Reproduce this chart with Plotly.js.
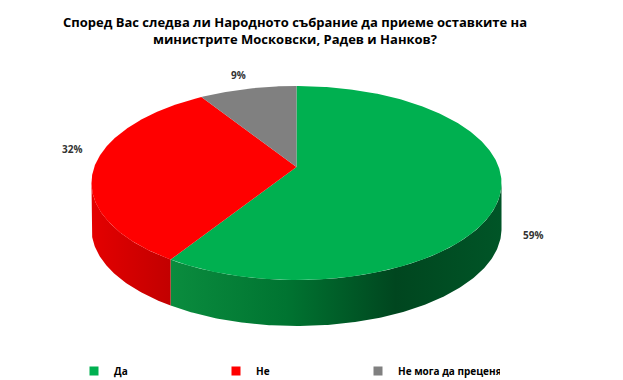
<!DOCTYPE html>
<html>
<head>
<meta charset="utf-8">
<script src="https://cdn.plot.ly/plotly-3.0.1.min.js"></script>
<style>html,body{margin:0;padding:0;background:#fff;}#chart{width:623px;height:380px;}</style>
</head>
<body>
<div id="chart"></div>
<script>
// ---- data ----
const categories = ['Да', 'Не', 'Не мога да преценя'];
const values = [59, 32, 9];
const valueLabels = ['59%', '32%', '9%'];
const titleText = 'Според Вас следва ли Народното събрание да приеме оставките на<br>министрите Московски, Радев и Нанков?';

// ---- styles ----
const topColors = ['#00b050', '#ff0000', '#808080'];
const sideScales = [
  [[0, '#0a8c3e'], [0.35, '#007431'], [0.68, '#00461f'], [1, '#005527']],
  [[0, '#e40000'], [1, '#c20000']],
  [[0, '#606060'], [1, '#505050']]
];
const labelShifts = [[33, -40], [-22, 18], [-9, 14]];

// ---- geometry (pixel space, perspective-projected disc) ----
const W = 623, H = 380;
const AX = 296.5, AY = 167;          // projected centre of the disc
const A = 202.2, B = 94.4, K = 0.165; // radii and perspective factor
const DEPTH = 46;
const rad = d => d * Math.PI / 180;
const rim = t => {
  const X = Math.sin(rad(t)), Z = Math.cos(rad(t));
  const s = 1 / (1 + K * Z);
  return [AX + A * X * s, AY - B * Z * s];
};
const silhouette = Math.acos(-K) * 180 / Math.PI; // where the side wall becomes visible

const total = values.reduce((a, b) => a + b, 0);
const starts = [], ends = [];
let acc = 0;
values.forEach(v => { starts.push(acc / total * 360); acc += v; ends.push(acc / total * 360); });

const arc = (a, b) => {
  const steps = Math.max(2, Math.ceil((b - a) * 1.5));
  const pts = [];
  for (let k = 0; k <= steps; k++) pts.push(rim(a + (b - a) * k / steps));
  return pts;
};

const traces = [];
// side walls (visible front part)
values.forEach((v, i) => {
  const a = Math.max(starts[i], silhouette), b = Math.min(ends[i], 360 - silhouette);
  if (b <= a) return;
  const top = arc(a, b);
  const xs = top.map(p => p[0]), ys = top.map(p => p[1]);
  for (let k = top.length - 1; k >= 0; k--) { xs.push(top[k][0]); ys.push(top[k][1] + DEPTH); }
  xs.push(xs[0]); ys.push(ys[0]);
  traces.push({
    type: 'scatter', mode: 'lines', x: xs, y: ys, fill: 'toself',
    fillgradient: { type: 'horizontal', colorscale: sideScales[i] },
    line: { width: 0, color: 'rgba(0,0,0,0)' }, hoverinfo: 'skip', showlegend: false
  });
});
// top faces
values.forEach((v, i) => {
  const pts = arc(starts[i], ends[i]);
  const xs = [AX].concat(pts.map(p => p[0]), [AX]);
  const ys = [AY].concat(pts.map(p => p[1]), [AY]);
  traces.push({
    type: 'scatter', mode: 'lines', x: xs, y: ys, fill: 'toself', fillcolor: topColors[i],
    line: { width: 0, color: topColors[i] }, hoverinfo: 'skip', showlegend: false
  });
});
// legend entries
categories.forEach((c, i) => {
  traces.push({
    type: 'scatter', mode: 'markers', x: [null], y: [null], name: c,
    marker: { symbol: 'square', size: 9, color: topColors[i] }, showlegend: true
  });
});

const annotations = values.map((v, i) => {
  const p = rim((starts[i] + ends[i]) / 2);
  return {
    x: p[0], y: p[1], xref: 'x', yref: 'y', text: valueLabels[i], showarrow: false,
    xshift: labelShifts[i][0], yshift: labelShifts[i][1],
    font: { family: 'Open Sans', size: 10, weight: 'bold', color: '#333333' }
  };
});

const layout = {
  width: W, height: H,
  margin: { l: 0, r: 0, t: 0, b: 0, autoexpand: false },
  paper_bgcolor: '#ffffff', plot_bgcolor: '#ffffff',
  xaxis: { range: [0, W], autorange: false, visible: false, fixedrange: true },
  yaxis: { range: [H, 0], autorange: false, visible: false, fixedrange: true },
  title: {
    text: titleText, x: 295 / W, xanchor: 'center', xref: 'paper',
    y: 1 - 27 / H, yref: 'container', yanchor: 'top', automargin: false,
    font: { family: 'Open Sans', size: 13, weight: 'bold', color: '#000000' }
  },
  showlegend: true,
  legend: {
    orientation: 'h', x: 74 / W, xanchor: 'left', xref: 'container',
    y: 1 - 371 / H, yanchor: 'middle', yref: 'container',
    entrywidth: 97, font: { family: 'Open Sans', size: 10, weight: 'bold', color: '#000' },
    bgcolor: 'rgba(0,0,0,0)'
  },
  annotations: annotations
};

Plotly.newPlot('chart', traces, layout, { staticPlot: true, displayModeBar: false });
</script>
</body>
</html>
